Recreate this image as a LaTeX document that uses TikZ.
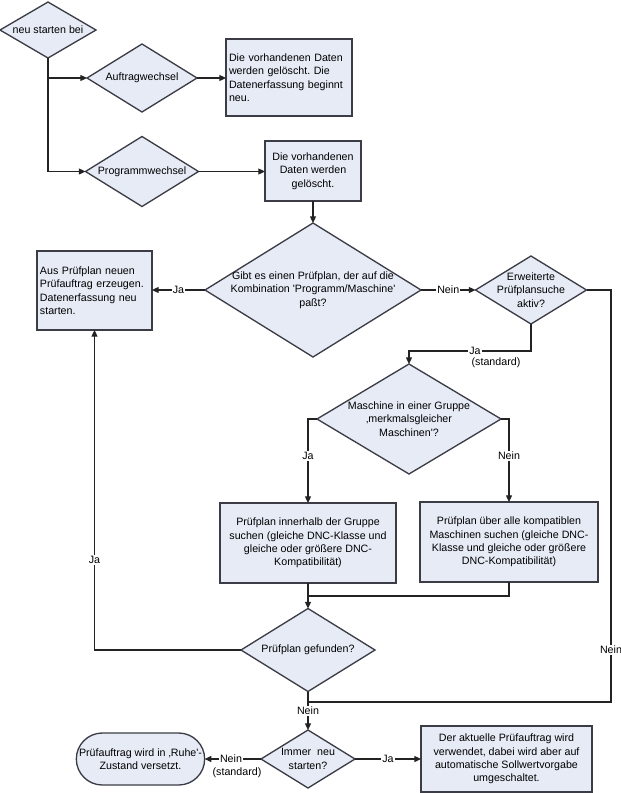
\documentclass[tikz,border=0pt]{standalone}
\usepackage{fontspec}
\setmainfont{Liberation Sans}[Ligatures=TeXOff]
\usetikzlibrary{shapes.geometric,shapes.misc,arrows.meta}
\definecolor{boxfill}{RGB}{230,235,246}
\definecolor{boxline}{RGB}{60,60,70}
\definecolor{conn}{RGB}{35,35,35}
\frenchspacing
\begin{document}
\begin{tikzpicture}[x=0.75pt,y=-0.75pt,
  every node/.style={font=\fontsize{8pt}{10.1pt}\selectfont, text=black},
  sz/.style 2 args={minimum width=#1*0.75pt, minimum height=#2*0.75pt},
  dia/.style={diamond, draw=boxline, fill=boxfill, line width=1pt, inner sep=0pt, outer sep=0pt},
  box/.style={rectangle, draw=boxline, fill=boxfill, line width=1.1pt, outer sep=0pt, align=center, inner sep=2pt},
  lbox/.style={box, align=left, inner xsep=2.25pt},
  dtext/.style={align=center, inner sep=0pt},
  arr/.style={draw=conn, line width=0.9pt, -{Triangle[length=5pt,width=4.5pt]}},
  ln/.style={draw=conn, line width=0.9pt},
  lab/.style={fill=white, inner sep=0.8pt},
]
\useasboundingbox (0,0) rectangle (621,793);

% nodes
\node[dia, sz={96}{56}] (n0) at (48,30) {};
\node[dtext] (n0t) at (n0) {neu starten bei};
\node[dia, sz={110}{68}] (d1) at (142,78) {};
\node[dtext] (d1t) at (d1) {Auftragwechsel};
\node[lbox, text width=90pt, minimum height=57.75pt] (b1) at (289,77.5) {Die vorhandenen Daten\\werden gelöscht. Die\\Datenerfassung beginnt\\neu.};
\node[dia, sz={113}{70}] (d2) at (142,171.5) {};
\node[dtext] (d2t) at (d2) {Programmwechsel};
\node[box, sz={96}{60}] (b2) at (313,171) {Die vorhandenen\\Daten werden\\gelöscht.};
\node[dia, sz={216}{134}] (d3) at (313,290) {};
\node[dtext] (d3t) at (d3) {Gibt es einen Prüfplan, der auf die\\Kombination 'Programm/Maschine'\\paßt?};
\node[lbox, text width=81.75pt, minimum height=59.25pt] (b3) at (94.5,290.5) {Aus Prüfplan neuen\\Prüfauftrag erzeugen.\\Datenerfassung neu\\starten.};
\node[dia, sz={111}{68}] (d4) at (531,290) {};
\node[dtext] (d4t) at (d4) {Erweiterte\\Prüfplansuche\\aktiv?};
\node[dia, sz={184}{110}] (d5) at (409,419) {};
\node[dtext] (d5t) at (d5) {Maschine in einer Gruppe\\‚merkmalsgleicher\\Maschinen'?};
\node[box, sz={176}{80}] (b4) at (308,543) {Prüfplan innerhalb der Gruppe\\suchen (gleiche DNC-Klasse und\\gleiche oder größere DNC-\\Kompatibilität)};
\node[box, sz={178}{80}] (b5) at (509,542) {Prüfplan über alle kompatiblen\\Maschinen suchen (gleiche DNC-\\Klasse und gleiche oder größere\\DNC-Kompatibilität)};
\node[dia, sz={134}{83}] (d6) at (308,650) {};
\node[dtext] (d6t) at (d6) {Prüfplan gefunden?};
\node[dia, sz={94}{58}] (d7) at (308,759) {};
\node[dtext] (d7t) at (d7) {Immer\ \ neu\\starten?};
\node[rounded rectangle, draw=boxline, fill=boxfill, line width=1pt, align=center, sz={131}{52}, inner sep=1pt, outer sep=0pt] (r1) at (140.5,759) {Prüfauftrag wird in ‚Ruhe'-\\Zustand versetzt.};
\node[box, sz={171}{66}] (b6) at (506.5,759) {Der aktuelle Prüfauftrag wird\\verwendet, dabei wird aber auf\\automatische Sollwertvorgabe\\umgeschaltet.};

% connectors
\draw[arr] (n0.south) |- (d2.west);
\draw[arr] (n0.south |- d1.west) -- (d1.west);
\draw[arr] (d1.east) -- (d1.east -| b1.west);
\draw[arr] (d2.east) -- (d2.east -| b2.west);
\draw[arr] (b2.south) -- (d3.north);
\draw[arr] (d3.west) -- node[lab] (l1) {Ja} (b3.east |- d3.west);
\draw[arr] (d3.east) -- node[lab] (l2) {Nein} (d4.west);
\coordinate (rt) at (611,702);
\draw[ln] (d4.east) -| (rt) -- (rt -| d6.south);
\node[lab] (l3) at (611,650) {Nein};
\draw[arr] (d6.south) -- (d7.north);
\node[lab] (l4) at (308,711) {Nein};
\coordinate (k) at (531,351);
\draw[arr] (d4.south) -- (k) -| (d5.north);
\node[lab] (l5) at (475,351) {Ja};
\node[inner sep=0pt] (l6) at (496,363) {(standard)};
\draw[arr] (d5.west) -| (b4.north);
\node[lab] (l7) at (308,456) {Ja};
\draw[arr] (d5.east) -| (b5.north);
\node[lab] (l8) at (509,456) {Nein};
\coordinate (m) at (308,596);
\draw[ln] (b5.south) |- (m);
\draw[arr] (b4.south) -- (d6.north);
\draw[arr] (d6.west) -| (b3.south);
\node[lab] (l9) at (94.5,560) {Ja};
\draw[arr] (d7.west) -- (r1.east);
\node[lab] (l10) at (231,759) {Nein};
\node[inner sep=0pt] (l11) at (237,773) {(standard)};
\draw[arr] (d7.east) -- node[lab] (l12) {Ja} (b6.west);
\end{tikzpicture}
\end{document}
